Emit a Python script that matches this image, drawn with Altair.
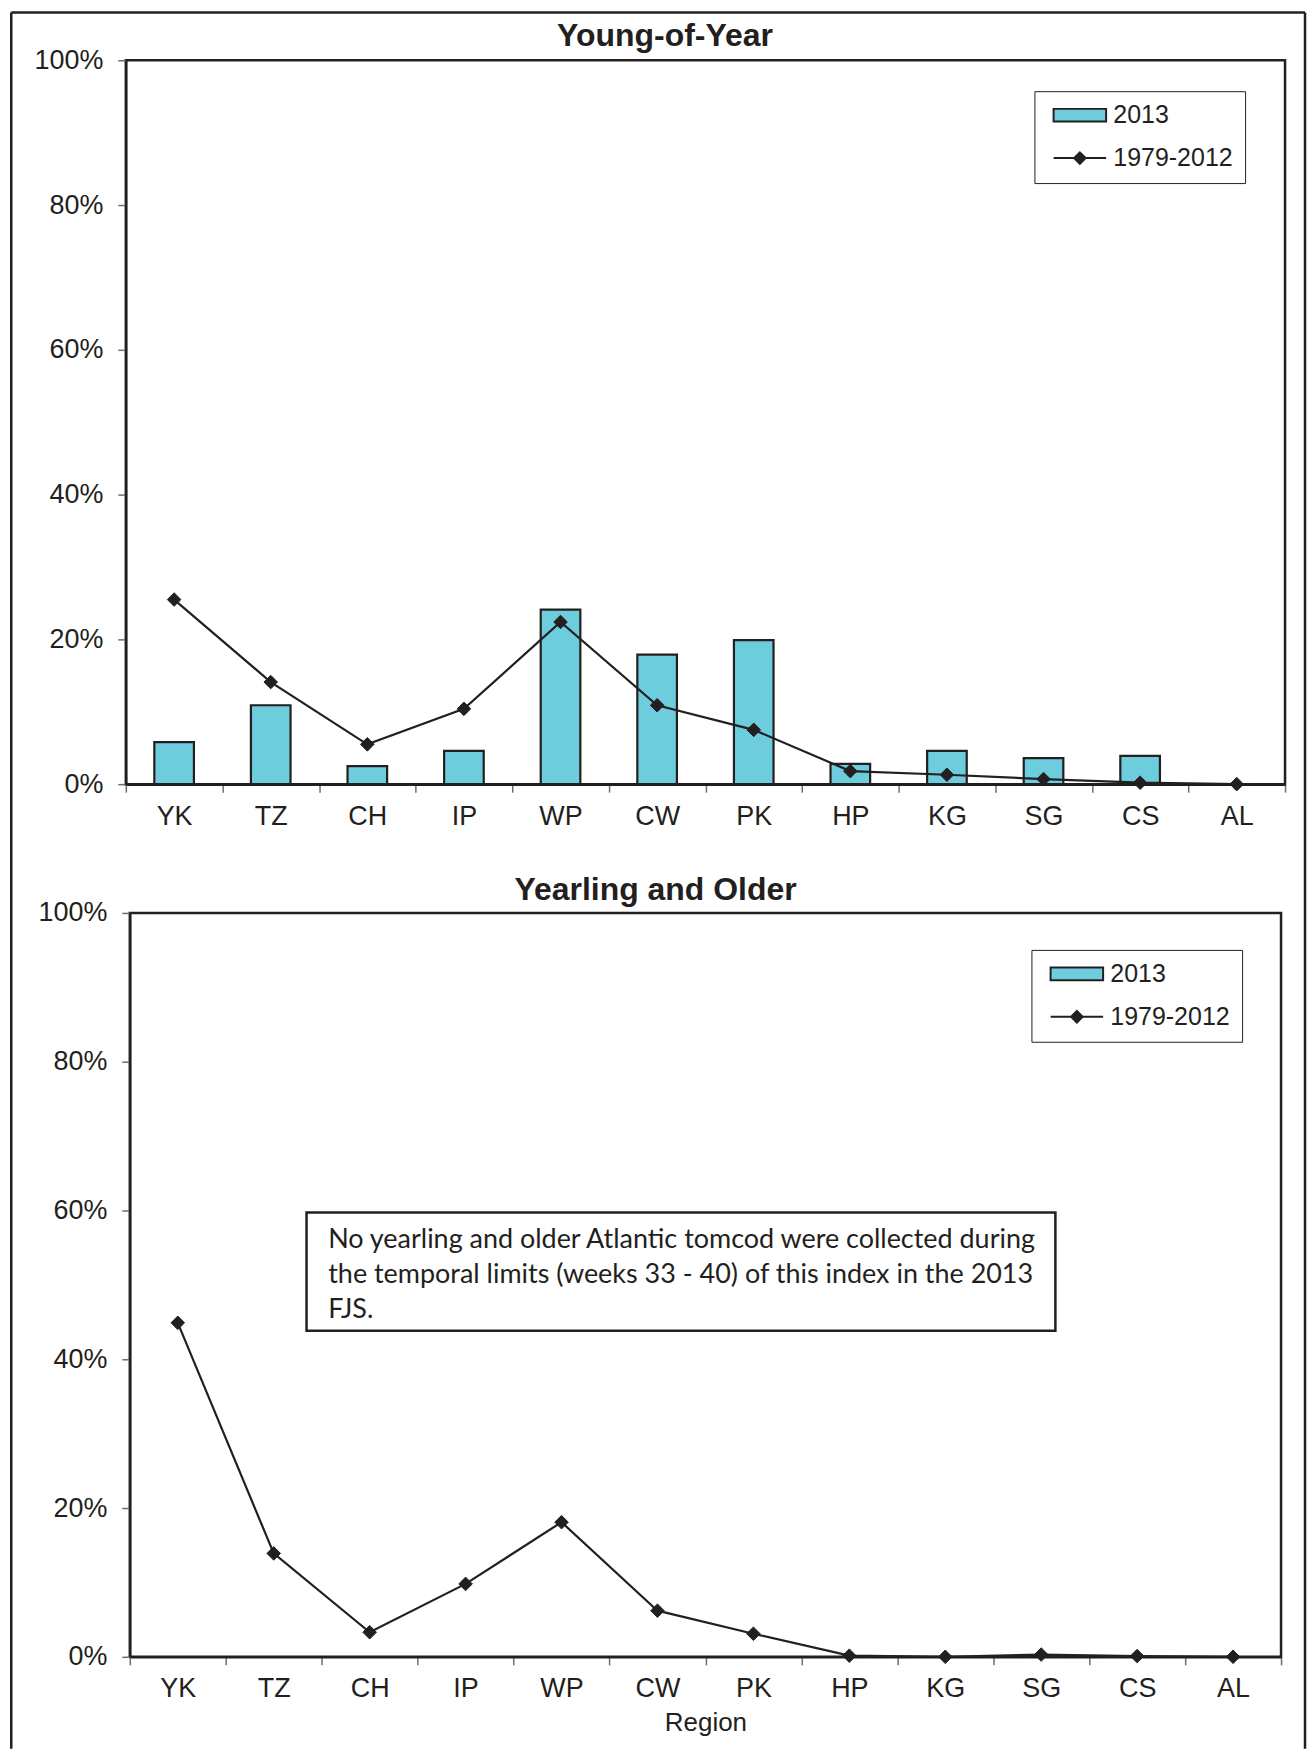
import altair as alt
import pandas as pd

# ---------------- data ----------------
regions = ["YK", "TZ", "CH", "IP", "WP", "CW", "PK", "HP", "KG", "SG", "CS", "AL"]
yoy_2013 = [5.8, 10.9, 2.5, 4.6, 24.1, 17.9, 19.9, 2.8, 4.6, 3.6, 3.9, 0.0]
yoy_1979_2012 = [25.5, 14.1, 5.5, 10.4, 22.4, 10.9, 7.5, 1.8, 1.3, 0.7, 0.2, 0.0]
yao_1979_2012 = [44.9, 13.9, 3.3, 9.8, 18.1, 6.2, 3.1, 0.15, 0.0, 0.3, 0.1, 0.0]
series = ["2013", "1979-2012"]
y_ticks = [0, 20, 40, 60, 80, 100]
panel_titles = ["Young-of-Year", "Yearling and Older"]
x_title = "Region"
note_lines = [
    "No yearling and older Atlantic tomcod were collected during",
    "the temporal limits (weeks 33 - 40) of this index in the 2013",
    "FJS.",
]

# ---------------- styles ----------------
INK = "#231f20"
CYAN = "#6ECDDC"
TICK = "#6d6d6d"
FONT = "Liberation Sans"
NOTE_FONT = "Lato"
RECT_PATH = "M-1,-0.24H1V0.24H-1Z"
LINE_PATH = "M-1,0H1M-0.22,0L0,-0.22L0.22,0L0,0.22Z"

TOP_W, TOP_H = 1161, 725
BOT_W, BOT_H = 1153, 745

top_df = pd.DataFrame({"region": regions, "v2013": yoy_2013, "hist": yoy_1979_2012})
bot_df = pd.DataFrame({"region": regions, "hist": yao_1979_2012})
# legend keys (one row per series, kept outside the plotted range and clipped)
key_df = pd.DataFrame({"region": [regions[0]] * 2, "hist": [-50, -50], "series": series})
one = pd.DataFrame({"k": [0]})


def x_enc(title=None):
    akw = dict(tickBand="extent", labelAngle=0, labelFont=FONT, labelFontSize=27,
               labelColor=INK, labelPadding=11, tickSize=8, tickColor=TICK,
               tickWidth=1.5, domainColor=INK, domainWidth=2.5, grid=False)
    if title:
        akw.update(title=title, titleFont=FONT, titleFontSize=26,
                   titleFontWeight="normal", titleColor=INK, titlePadding=8)
    else:
        akw.update(title=None)
    return alt.X("region:N", sort=regions,
                 scale=alt.Scale(domain=regions, paddingInner=0, paddingOuter=0),
                 axis=alt.Axis(**akw))


def y_enc(field):
    axis = alt.Axis(values=y_ticks, labelExpr="datum.value + '%'", title=None,
                    labelFont=FONT, labelFontSize=27, labelColor=INK, labelPadding=15,
                    tickSize=8, tickColor=TICK, tickWidth=1.5, domainColor=INK,
                    domainWidth=2.5, grid=False)
    return alt.Y(f"{field}:Q", scale=alt.Scale(domain=[0, 100], nice=False), axis=axis)


def legend(lx, ly):
    return alt.Legend(
        title=None, orient="none", legendX=lx, legendY=ly, direction="vertical",
        padding=12, strokeColor=INK, fillColor="white", cornerRadius=0,
        symbolSize=2767, clipHeight=24, rowPadding=18, symbolOffset=6, labelOffset=6,
        labelFont=FONT, labelFontSize=25, labelColor=INK,
        symbolStrokeWidth=2, symbolStrokeColor=INK, symbolOpacity=1)


def legend_keys(lx, ly, title=None):
    lg = legend(lx, ly)
    return alt.Chart(key_df).mark_point(filled=True, strokeWidth=2, clip=True,
                                        opacity=1).encode(
        x=x_enc(title), y=y_enc("hist"),
        color=alt.Color("series:N", scale=alt.Scale(domain=series, range=[CYAN, INK]),
                        legend=lg),
        stroke=alt.Stroke("series:N", scale=alt.Scale(domain=series, range=[INK, INK]),
                          legend=lg),
        shape=alt.Shape("series:N", scale=alt.Scale(domain=series,
                                                    range=[RECT_PATH, LINE_PATH]),
                        legend=lg))


def rule(x, x2, y, y2):
    return alt.Chart(one).mark_rule(color=INK, strokeWidth=2.5).encode(
        x=alt.value(x), x2=alt.value(x2), y=alt.value(y), y2=alt.value(y2))


def title_text(txt, x, y):
    return alt.Chart(one).mark_text(font=FONT, fontSize=32, fontWeight="bold", color=INK,
                                    align="center", baseline="alphabetic").encode(
        x=alt.value(x), y=alt.value(y), text=alt.value(txt))


# outer frame (no bottom edge visible in the reference)
FL, FR, FT, FB = -114.75, 1181, -47.75, 1691
frame = [rule(FL, FL, FT, FB), rule(FL, FR, FT, FT), rule(FR, FR, FT, FB)]


def points(df, title=None):
    return alt.Chart(df).mark_point(shape="diamond", filled=True, size=185, opacity=1,
                                    color=INK, stroke=INK, strokeWidth=1).encode(
        x=x_enc(title), y=y_enc("hist"))


# ---------------- top panel ----------------
bars = alt.Chart(top_df).mark_bar(fill=CYAN, stroke=INK, strokeWidth=2.2,
                                  width=alt.RelativeBandSize(0.41)).encode(
    x=x_enc(), y=y_enc("v2013"))
line_top = alt.Chart(top_df).mark_line(color=INK, strokeWidth=2.2).encode(
    x=x_enc(), y=y_enc("hist"))

top = alt.layer(*frame, bars, line_top, points(top_df), legend_keys(910, 31),
                title_text(panel_titles[0], 540, -14)).properties(width=TOP_W, height=TOP_H)

# ---------------- bottom panel ----------------
line_bot = alt.Chart(bot_df).mark_line(color=INK, strokeWidth=2.2).encode(
    x=x_enc(x_title), y=y_enc("hist"))

note_box = alt.Chart(one).mark_rect(fill="white", stroke=INK, strokeWidth=2.5).encode(
    x=alt.value(177), x2=alt.value(927), y=alt.value(300), y2=alt.value(418.5))
note_text = alt.Chart(one).mark_text(font=NOTE_FONT, fontSize=27, color=INK, align="left",
                                     baseline="alphabetic", lineHeight=35,
                                     lineBreak="\n").encode(
    x=alt.value(198.7), y=alt.value(335.8), text=alt.value("\n".join(note_lines)))

bottom = alt.layer(line_bot, points(bot_df, x_title), legend_keys(903, 37, x_title),
                   note_box, note_text,
                   title_text(panel_titles[1], 526.5, -13)).properties(width=BOT_W,
                                                                     height=BOT_H)

chart = alt.vconcat(top, bottom, spacing=129, bounds="flush", center=True).resolve_scale(
    color="independent", shape="independent", stroke="independent").resolve_legend(
    color="independent", shape="independent", stroke="independent").properties(
    padding=0, background="white").configure(
    font=FONT, view=alt.ViewConfig(stroke=INK, strokeWidth=2.5))

chart.save("out.html", embed_options={"renderer": "svg", "actions": False})
